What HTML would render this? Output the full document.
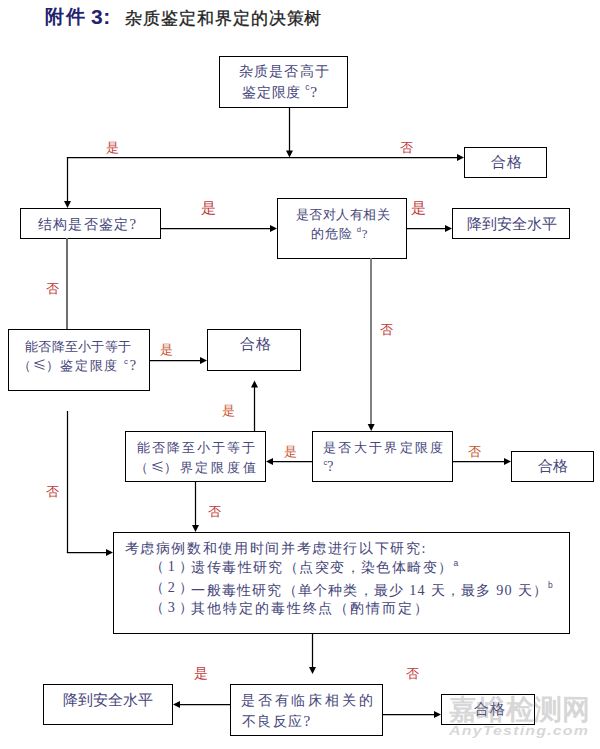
<!DOCTYPE html>
<html><head><meta charset="utf-8"><style>
html,body{margin:0;padding:0;background:#fff;}
body{width:600px;height:749px;position:relative;overflow:hidden;font-family:"Liberation Serif",serif;}
.b{position:absolute;border:1px solid #000;box-sizing:border-box;background:#fff;}
.t{position:absolute;white-space:nowrap;line-height:1;}
.s{font-size:0.6em;position:relative;top:-0.75em;font-family:'Liberation Sans',sans-serif;}
.q{font-size:1.1em;}
.le{display:inline-block;width:11px;height:11px;margin:0 1px;}
</style></head><body>

<div class="b" style="left:219px;top:56px;width:129px;height:52px"></div>
<div class="b" style="left:464px;top:147px;width:83px;height:31px"></div>
<div class="b" style="left:20px;top:208px;width:141px;height:31px"></div>
<div class="b" style="left:277px;top:198px;width:130px;height:61px"></div>
<div class="b" style="left:452px;top:208px;width:118px;height:31px"></div>
<div class="b" style="left:8px;top:329px;width:142px;height:62px"></div>
<div class="b" style="left:207px;top:329px;width:94px;height:42px"></div>
<div class="b" style="left:312px;top:431px;width:141px;height:51px"></div>
<div class="b" style="left:511px;top:451px;width:83px;height:31px"></div>
<div class="b" style="left:125px;top:431px;width:141px;height:51px"></div>
<div class="b" style="left:113px;top:532px;width:457px;height:102px"></div>
<div class="b" style="left:230px;top:684px;width:153px;height:52px"></div>
<div class="b" style="left:43px;top:684px;width:130px;height:41px"></div>
<div class="b" style="left:441px;top:694px;width:94px;height:31px"></div>
<svg style="position:absolute;left:0;top:0" width="600" height="749"><line x1="289.5" y1="107" x2="289.5" y2="152" stroke="#000" stroke-width="1.25"/><line x1="66.9" y1="157.5" x2="458" y2="157.5" stroke="#000" stroke-width="1.25"/><line x1="67.5" y1="157" x2="67.5" y2="202" stroke="#000" stroke-width="1.25"/><line x1="160" y1="228.5" x2="271" y2="228.5" stroke="#000" stroke-width="1.25"/><line x1="406" y1="228.5" x2="446" y2="228.5" stroke="#000" stroke-width="1.25"/><line x1="67" y1="238" x2="67" y2="329" stroke="#6e6e6e" stroke-width="2"/><line x1="149" y1="360.5" x2="201" y2="360.5" stroke="#000" stroke-width="1.25"/><line x1="371" y1="258" x2="371" y2="424" stroke="#747474" stroke-width="1.8"/><line x1="452" y1="461.5" x2="505" y2="461.5" stroke="#000" stroke-width="1.25"/><line x1="312" y1="461.5" x2="272" y2="461.5" stroke="#000" stroke-width="1.25"/><line x1="254.5" y1="431" x2="254.5" y2="387" stroke="#000" stroke-width="1.25"/><line x1="195.5" y1="481" x2="195.5" y2="526" stroke="#000" stroke-width="1.25"/><line x1="67.5" y1="411" x2="67.5" y2="553" stroke="#000" stroke-width="1.25"/><line x1="66.9" y1="552.5" x2="107" y2="552.5" stroke="#000" stroke-width="1.25"/><line x1="312.5" y1="633" x2="312.5" y2="668" stroke="#000" stroke-width="1.25"/><line x1="230" y1="704.5" x2="179" y2="704.5" stroke="#000" stroke-width="1.25"/><line x1="382" y1="714.5" x2="435" y2="714.5" stroke="#000" stroke-width="1.25"/><polygon points="286.00,150.60 293.00,150.60 289.50,157.60" fill="#000"/><polygon points="457.00,154.00 457.00,161.00 464.00,157.50" fill="#000"/><polygon points="64.00,201.00 71.00,201.00 67.50,208.00" fill="#000"/><polygon points="270.00,225.00 270.00,232.00 277.00,228.50" fill="#000"/><polygon points="445.00,225.00 445.00,232.00 452.00,228.50" fill="#000"/><polygon points="200.00,357.00 200.00,364.00 207.00,360.50" fill="#000"/><polygon points="367.70,424.00 374.70,424.00 371.20,431.00" fill="#000"/><polygon points="504.00,458.00 504.00,465.00 511.00,461.50" fill="#000"/><polygon points="273.00,458.00 273.00,465.00 266.00,461.50" fill="#000"/><polygon points="251.00,387.50 258.00,387.50 254.50,380.50" fill="#000"/><polygon points="192.00,525.00 199.00,525.00 195.50,532.00" fill="#000"/><polygon points="106.00,549.00 106.00,556.00 113.00,552.50" fill="#000"/><polygon points="309.00,667.00 316.00,667.00 312.50,674.00" fill="#000"/><polygon points="180.00,701.00 180.00,708.00 173.00,704.50" fill="#000"/><polygon points="434.00,711.00 434.00,718.00 441.00,714.50" fill="#000"/></svg>
<div class="t" style="left:45.00px;top:7.50px;font-size:18.50px;letter-spacing:1.57px;color:#22226e;font-weight:bold;font-family:'Liberation Sans',sans-serif;">附件</div>
<div class="t" style="left:91.00px;top:6.40px;font-size:21.00px;letter-spacing:0.45px;color:#22226e;font-weight:bold;font-family:'Liberation Sans',sans-serif;">3:</div>
<div class="t" style="left:124.60px;top:9.50px;font-size:17.00px;letter-spacing:0.99px;color:#222;font-weight:500;-webkit-text-stroke:0.3px #222;">杂质鉴定和界定的决策树</div>
<div class="t" style="left:238.60px;top:64.20px;font-size:14.10px;letter-spacing:1.26px;color:#45457a;">杂质是否高于</div>
<div class="t" style="left:242.00px;top:83.60px;font-size:14.10px;letter-spacing:0.75px;color:#45457a;">鉴定限度 <span class="s">c</span><span class="q">?</span></div>
<div class="t" style="left:37.50px;top:216.80px;font-size:13.50px;letter-spacing:1.35px;color:#45457a;">结构是否鉴定<span class="q">?</span></div>
<div class="t" style="left:295.80px;top:209.30px;font-size:12.80px;letter-spacing:0.52px;color:#45457a;">是否对人有相关</div>
<div class="t" style="left:311.20px;top:227.70px;font-size:12.80px;letter-spacing:0.81px;color:#45457a;">的危险 <span class="s">d</span>?</div>
<div class="t" style="left:466.60px;top:217.30px;font-size:14.80px;letter-spacing:0.09px;color:#45457a;">降到安全水平</div>
<div class="t" style="left:491.00px;top:155.00px;font-size:14.90px;letter-spacing:0.90px;color:#45457a;">合格</div>
<div class="t" style="left:25.00px;top:339.50px;font-size:13.00px;letter-spacing:0.26px;color:#45457a;">能否降至小于等于</div>
<div class="t" style="left:18.00px;top:357.70px;font-size:13.00px;letter-spacing:1.69px;color:#45457a;">（<svg class="le" viewBox="0 0 11 11"><path d="M10.5 0.8 L0.6 4 L10.5 7.3 M0.6 6.9 L10.5 10.4" stroke="#3a3a72" stroke-width="0.95" fill="none"/></svg>）鉴定限度 <span class="s">c</span><span class="q">?</span></div>
<div class="t" style="left:240.00px;top:337.40px;font-size:14.90px;letter-spacing:0.90px;color:#45457a;">合格</div>
<div class="t" style="left:137.00px;top:442.10px;font-size:12.50px;letter-spacing:2.06px;color:#45457a;">能否降至小于等于</div>
<div class="t" style="left:135.00px;top:460.50px;font-size:12.50px;letter-spacing:2.80px;color:#45457a;">（<svg class="le" viewBox="0 0 11 11"><path d="M10.5 0.8 L0.6 4 L10.5 7.3 M0.6 6.9 L10.5 10.4" stroke="#3a3a72" stroke-width="0.95" fill="none"/></svg>）界定限度值</div>
<div class="t" style="left:323.20px;top:442.10px;font-size:12.60px;letter-spacing:2.31px;color:#45457a;">是否大于界定限度</div>
<div class="t" style="left:323.40px;top:459.70px;font-size:12.60px;letter-spacing:0.00px;color:#45457a;"><span class="s">c</span><span class="q">?</span></div>
<div class="t" style="left:538.20px;top:458.80px;font-size:14.90px;letter-spacing:0.00px;color:#45457a;">合格</div>
<div class="t" style="left:124.60px;top:540.60px;font-size:14.20px;letter-spacing:1.63px;color:#45457a;">考虑病例数和使用时间并考虑进行以下研究:</div>
<div class="t" style="left:149.80px;top:559.30px;font-size:14.20px;letter-spacing:4.05px;color:#45457a;">（1）</div>
<div class="t" style="left:191.30px;top:560.30px;font-size:14.20px;letter-spacing:1.43px;color:#45457a;">遗传毒性研究（点突变，染色体畸变）<span class="s">a</span></div>
<div class="t" style="left:149.80px;top:580.10px;font-size:14.20px;letter-spacing:4.05px;color:#45457a;">（2）</div>
<div class="t" style="left:191.30px;top:582.60px;font-size:14.20px;letter-spacing:1.22px;color:#45457a;">一般毒性研究（单个种类，最少 14 天，最多 90 天）<span class="s">b</span></div>
<div class="t" style="left:149.80px;top:600.10px;font-size:14.20px;letter-spacing:4.05px;color:#45457a;">（3）</div>
<div class="t" style="left:190.80px;top:600.60px;font-size:14.20px;letter-spacing:1.96px;color:#45457a;">其他特定的毒性终点（酌情而定）</div>
<div class="t" style="left:240.90px;top:693.70px;font-size:13.90px;letter-spacing:2.83px;color:#45457a;">是否有临床相关的</div>
<div class="t" style="left:242.00px;top:712.60px;font-size:13.90px;letter-spacing:1.35px;color:#45457a;">不良反应<span class="q">?</span></div>
<div class="t" style="left:63.00px;top:693.30px;font-size:14.80px;letter-spacing:-0.00px;color:#45457a;">降到安全水平</div>
<div class="t" style="left:473.80px;top:701.80px;font-size:14.90px;letter-spacing:1.12px;color:#45457a;">合格</div>
<div class="t" style="left:106.00px;top:141.10px;font-size:13.20px;letter-spacing:0.00px;color:#c03a3a;">是</div>
<div class="t" style="left:400.00px;top:141.10px;font-size:13.20px;letter-spacing:0.00px;color:#c03a3a;">否</div>
<div class="t" style="left:201.00px;top:201.00px;font-size:14.50px;letter-spacing:0.00px;color:#c03a3a;">是</div>
<div class="t" style="left:411.00px;top:201.00px;font-size:14.50px;letter-spacing:0.00px;color:#c03a3a;">是</div>
<div class="t" style="left:45.60px;top:282.10px;font-size:13.20px;letter-spacing:0.00px;color:#c03a3a;">否</div>
<div class="t" style="left:379.80px;top:322.70px;font-size:13.20px;letter-spacing:0.00px;color:#c03a3a;">否</div>
<div class="t" style="left:160.00px;top:342.70px;font-size:13.20px;letter-spacing:0.00px;color:#c8502e;">是</div>
<div class="t" style="left:221.80px;top:403.70px;font-size:13.20px;letter-spacing:0.00px;color:#c8502e;">是</div>
<div class="t" style="left:283.80px;top:445.10px;font-size:13.20px;letter-spacing:0.00px;color:#c8502e;">是</div>
<div class="t" style="left:467.80px;top:444.70px;font-size:13.20px;letter-spacing:0.00px;color:#c8502e;">否</div>
<div class="t" style="left:45.60px;top:484.70px;font-size:13.20px;letter-spacing:0.00px;color:#c03a3a;">否</div>
<div class="t" style="left:208.40px;top:505.10px;font-size:13.20px;letter-spacing:0.00px;color:#c03a3a;">否</div>
<div class="t" style="left:194.20px;top:666.70px;font-size:14.00px;letter-spacing:0.00px;color:#c03a3a;">是</div>
<div class="t" style="left:406.20px;top:666.70px;font-size:13.20px;letter-spacing:0.00px;color:#c03a3a;">否</div>
<div class="t" style="left:449.10px;top:695.80px;font-size:27.50px;letter-spacing:0.23px;color:rgba(140,140,140,0.36);font-weight:bold;font-family:'Liberation Sans',sans-serif;">嘉峪检测网</div>
<div class="t" style="left:449.20px;top:725.05px;font-size:12.80px;letter-spacing:0.93px;color:rgba(140,140,140,0.36);font-weight:bold;font-family:'Liberation Sans',sans-serif;font-style:italic;transform:scaleX(1.25);transform-origin:0 0;">AnyTesting.com</div>
</body></html>
